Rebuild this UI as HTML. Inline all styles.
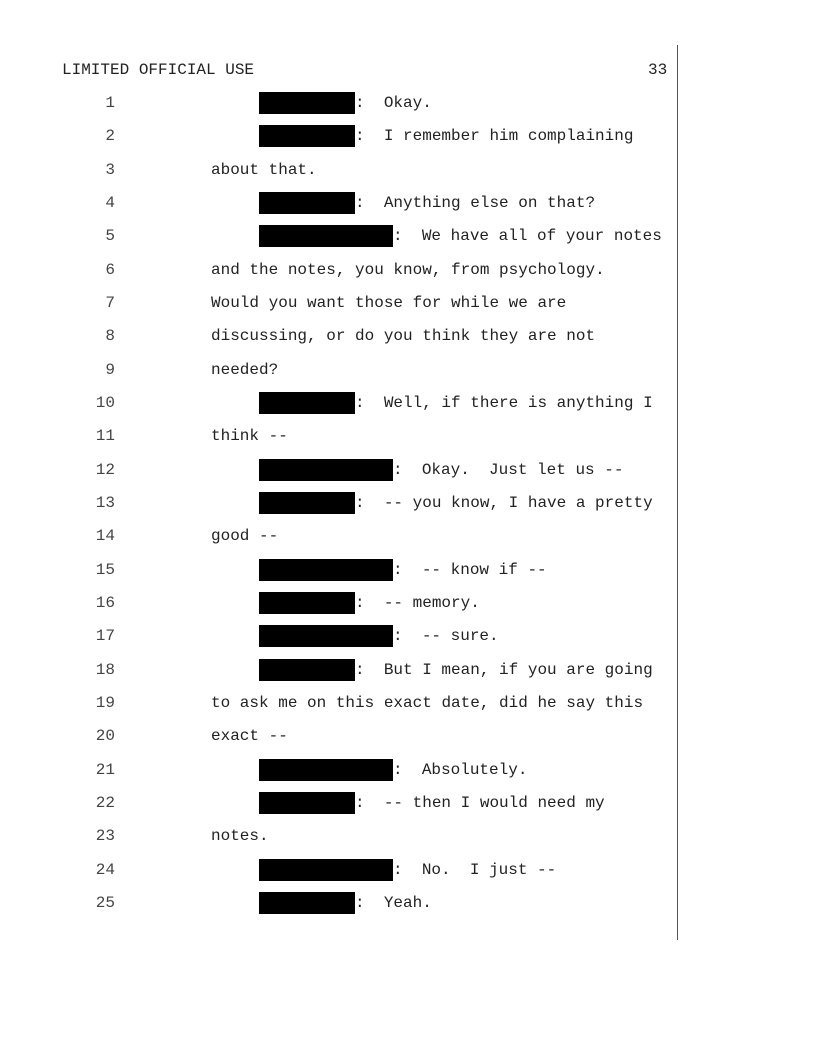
<!DOCTYPE html>
<html><head><meta charset="utf-8">
<style>
html,body{margin:0;padding:0;background:#fff;}
body{width:816px;height:1056px;position:relative;overflow:hidden;font-family:"Liberation Mono",monospace;font-size:16px;color:#222;}
.l{position:absolute;left:0;height:22px;line-height:22px;white-space:pre;}
.n{position:absolute;left:60px;width:55px;text-align:right;color:#444;}
.t{position:absolute;left:211px;}
.b{display:inline-block;background:#000;height:22px;vertical-align:top;}
.s{width:96px}.g{width:134px}
.vl{position:absolute;left:677px;top:45px;width:1px;height:895px;background:#555;}
</style></head><body>
<div class="l" style="top:59px;left:62px">LIMITED OFFICIAL USE</div>
<div class="l" style="top:59px;left:648px">33</div>
<div class="vl"></div>
<div class="l" style="top:92px"><span class="n">1</span><span class="t">     <span class="b s"></span>:  Okay.</span></div>
<div class="l" style="top:125.3px"><span class="n">2</span><span class="t">     <span class="b s"></span>:  I remember him complaining</span></div>
<div class="l" style="top:158.7px"><span class="n">3</span><span class="t">about that.</span></div>
<div class="l" style="top:192px"><span class="n">4</span><span class="t">     <span class="b s"></span>:  Anything else on that?</span></div>
<div class="l" style="top:225.3px"><span class="n">5</span><span class="t">     <span class="b g"></span>:  We have all of your notes</span></div>
<div class="l" style="top:258.7px"><span class="n">6</span><span class="t">and the notes, you know, from psychology.</span></div>
<div class="l" style="top:292px"><span class="n">7</span><span class="t">Would you want those for while we are</span></div>
<div class="l" style="top:325.3px"><span class="n">8</span><span class="t">discussing, or do you think they are not</span></div>
<div class="l" style="top:358.7px"><span class="n">9</span><span class="t">needed?</span></div>
<div class="l" style="top:392px"><span class="n">10</span><span class="t">     <span class="b s"></span>:  Well, if there is anything I</span></div>
<div class="l" style="top:425.3px"><span class="n">11</span><span class="t">think --</span></div>
<div class="l" style="top:458.7px"><span class="n">12</span><span class="t">     <span class="b g"></span>:  Okay.  Just let us --</span></div>
<div class="l" style="top:492px"><span class="n">13</span><span class="t">     <span class="b s"></span>:  -- you know, I have a pretty</span></div>
<div class="l" style="top:525.3px"><span class="n">14</span><span class="t">good --</span></div>
<div class="l" style="top:558.7px"><span class="n">15</span><span class="t">     <span class="b g"></span>:  -- know if --</span></div>
<div class="l" style="top:592px"><span class="n">16</span><span class="t">     <span class="b s"></span>:  -- memory.</span></div>
<div class="l" style="top:625.3px"><span class="n">17</span><span class="t">     <span class="b g"></span>:  -- sure.</span></div>
<div class="l" style="top:658.7px"><span class="n">18</span><span class="t">     <span class="b s"></span>:  But I mean, if you are going</span></div>
<div class="l" style="top:692px"><span class="n">19</span><span class="t">to ask me on this exact date, did he say this</span></div>
<div class="l" style="top:725.3px"><span class="n">20</span><span class="t">exact --</span></div>
<div class="l" style="top:758.7px"><span class="n">21</span><span class="t">     <span class="b g"></span>:  Absolutely.</span></div>
<div class="l" style="top:792px"><span class="n">22</span><span class="t">     <span class="b s"></span>:  -- then I would need my</span></div>
<div class="l" style="top:825.3px"><span class="n">23</span><span class="t">notes.</span></div>
<div class="l" style="top:858.7px"><span class="n">24</span><span class="t">     <span class="b g"></span>:  No.  I just --</span></div>
<div class="l" style="top:892px"><span class="n">25</span><span class="t">     <span class="b s"></span>:  Yeah.</span></div>
</body></html>
